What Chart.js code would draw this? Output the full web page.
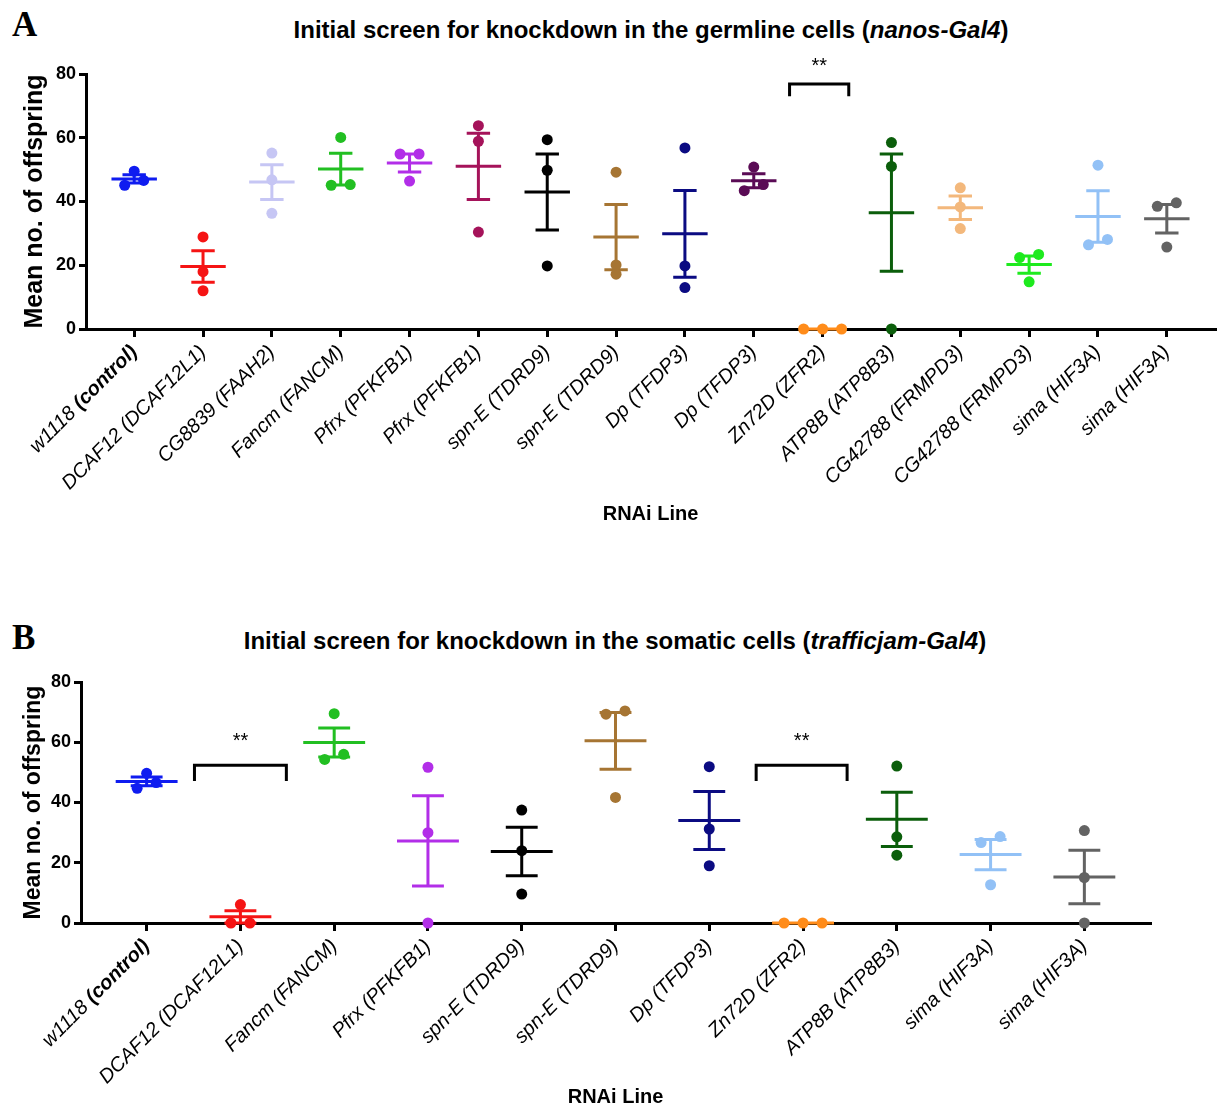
<!DOCTYPE html>
<html>
<head>
<meta charset="utf-8">
<script src="https://cdn.jsdelivr.net/npm/chart.js@4.4.1/dist/chart.umd.min.js"></script>
<style>
  body { margin: 0; background: #fff; width: 1224px; height: 1109px; position: relative; overflow: hidden;
         font-family: "Liberation Sans", Arial, sans-serif; color: #000; }
  canvas { position: absolute; left: 0; }
  .letter { position: absolute; left: 12px; font-family: "Liberation Serif", "Times New Roman", serif;
            font-weight: bold; font-size: 35px; line-height: 35px; }
  .title { position: absolute; font-weight: bold; font-size: 24px; white-space: nowrap; transform: translateX(-50%); }
</style>
</head>
<body>
<div class="letter" style="top:7px">A</div>
<div class="title" style="left:651px;top:16px">Initial screen for knockdown in the germline cells (<i>nanos-Gal4</i>)</div>
<canvas id="panelA" width="1224" height="545" style="top:0"></canvas>

<div class="letter" style="top:620px">B</div>
<div class="title" style="left:615px;top:627px">Initial screen for knockdown in the somatic cells (<i>trafficjam-Gal4</i>)</div>
<canvas id="panelB" width="1224" height="509" style="top:600px"></canvas>

<script>
// ---- data: offspring counts per RNAi line (3 replicates each) ----
const linesA = ['w1118 (control)', 'DCAF12 (DCAF12L1)', 'CG8839 (FAAH2)', 'Fancm (FANCM)',
  'Pfrx (PFKFB1)', 'Pfrx (PFKFB1)', 'spn-E (TDRD9)', 'spn-E (TDRD9)', 'Dp (TFDP3)', 'Dp (TFDP3)',
  'Zn72D (ZFR2)', 'ATP8B (ATP8B3)', 'CG42788 (FRMPD3)', 'CG42788 (FRMPD3)', 'sima (HIF3A)', 'sima (HIF3A)'];
const offspringA = [
  [49.5, 45.1, 46.6],
  [28.9, 18.0, 12.0],
  [55.2, 46.8, 36.3],
  [60.1, 45.1, 45.3],
  [54.9, 54.9, 46.4],
  [63.8, 58.9, 30.4],
  [59.4, 49.8, 19.8],
  [49.2, 20.1, 17.2],
  [56.8, 19.8, 13.0],
  [50.8, 43.4, 45.3],
  [0, 0, 0],
  [58.5, 51.0, 0],
  [44.3, 38.3, 31.5],
  [23.4, 22.4, 14.8],
  [51.4, 28.1, 26.4],
  [39.6, 38.5, 25.7]
];
// significance brackets: [from, to, top, leg end, label y]
const bracketsA = [[9.52, 10.38, 76.9, 73.0, 82.3]];

const linesB = ['w1118 (control)', 'DCAF12 (DCAF12L1)', 'Fancm (FANCM)', 'Pfrx (PFKFB1)',
  'spn-E (TDRD9)', 'spn-E (TDRD9)', 'Dp (TFDP3)', 'Zn72D (ZFR2)', 'ATP8B (ATP8B3)',
  'sima (HIF3A)', 'sima (HIF3A)'];
const offspringB = [
  [49.7, 44.7, 46.6],
  [6.1, 0, 0],
  [69.5, 54.3, 56.0],
  [51.7, 30.0, 0],
  [37.5, 24.0, 9.6],
  [70.4, 69.3, 41.7],
  [51.9, 31.2, 19.0],
  [0, 0, 0],
  [52.1, 28.6, 22.5],
  [28.7, 26.7, 12.7],
  [30.7, 15.1, 0]
];
const bracketsB = [[0.51, 1.49, 52.4, 47.1, 60.1], [6.5, 7.47, 52.4, 47.1, 60.1]];

const yTicks = [0, 20, 40, 60, 80];

// ---- colours ----
const BLUE = '#0f1cf0', RED = '#f51414', LAVENDER = '#c6c6f4', GREEN = '#22bf22', VIOLET = '#b22ee8',
  CRIMSON = '#a5135a', BLACK = '#000000', BROWN = '#a67533', NAVY = '#0b0b82', PLUM = '#5a0b55',
  ORANGE = '#ff8c1a', DKGREEN = '#0b5e0b', PEACH = '#f3b87c', LIME = '#1eea1e', SKY = '#92c1f6', GREY = '#636363';
const coloursA = [BLUE, RED, LAVENDER, GREEN, VIOLET, CRIMSON, BLACK, BROWN, NAVY, PLUM, ORANGE, DKGREEN, PEACH, LIME, SKY, GREY];
const coloursB = [BLUE, RED, GREEN, VIOLET, BLACK, BROWN, NAVY, ORANGE, DKGREEN, SKY, GREY];

Chart.defaults.font.family = '"Liberation Sans", Arial, sans-serif';
Chart.defaults.color = '#000';

const EDGE = 0.7;        // empty space at each end of the x axis, in categories
const MEAN_HALF = 0.33;
const CAP_HALF = 0.17;
const LABEL_FONT = '"Liberation Sans", Arial, sans-serif';

function mean(a) { return a.reduce((s, v) => s + v, 0) / a.length; }
function sem(a) {
  const m = mean(a);
  const v = a.reduce((s, x) => s + (x - m) * (x - m), 0) / (a.length - 1);
  return Math.sqrt(v / a.length);
}

// put dots that would overlap side by side (like a scatter dot plot)
function spread(vals, pxPerUnit, pxPerCat) {
  const order = vals.map((v, i) => i).sort((a, b) => vals[a] - vals[b]);
  const out = vals.map(() => 0);
  let run = [order[0]];
  const close = () => run.forEach((k, j) => { out[k] = (j - (run.length - 1) / 2) * 19 / pxPerCat; });
  for (let n = 1; n < order.length; n++) {
    if ((vals[order[n]] - vals[order[n - 1]]) * pxPerUnit < 9) run.push(order[n]);
    else { close(); run = [order[n]]; }
  }
  close();
  return out;
}

function makePanel(id, names, values, colours, brackets, box) {
  const plotW = box.width - box.pad.left - box.yWidth - box.pad.right;
  const plotH = box.height - box.pad.top - box.pad.bottom - box.xHeight;
  const pxPerCat = plotW / (names.length - 1 + 2 * EDGE);
  const pxPerUnit = plotH / yTicks[yTicks.length - 1];

  const datasets = [];
  values.forEach((vals, i) => {
    const m = mean(vals), s = sem(vals);
    const offs = spread(vals, pxPerUnit, pxPerCat);
    datasets.push({
      type: 'scatter',
      data: vals.map((v, k) => ({ x: i + offs[k], y: v })),
      pointRadius: 5.5, pointBackgroundColor: colours[i], pointBorderWidth: 0,
      order: 0, clip: false
    });
    datasets.push({
      type: 'line', showLine: true, spanGaps: false,
      data: [
        { x: i - MEAN_HALF, y: m }, { x: i + MEAN_HALF, y: m }, { x: i, y: null },
        { x: i, y: m - s }, { x: i, y: m + s }, { x: i, y: null },
        { x: i - CAP_HALF, y: m + s }, { x: i + CAP_HALF, y: m + s }, { x: i, y: null },
        { x: i - CAP_HALF, y: m - s }, { x: i + CAP_HALF, y: m - s }
      ],
      borderColor: colours[i], borderWidth: 3, pointRadius: 0, order: 1, clip: false
    });
  });
  brackets.forEach(b => {
    datasets.push({
      type: 'line', showLine: true,
      data: [{ x: b[0], y: b[3] }, { x: b[0], y: b[2] }, { x: b[1], y: b[2] }, { x: b[1], y: b[3] }],
      borderColor: '#000', borderWidth: 3, pointRadius: 0, order: 2, clip: false
    });
  });

  const textPlugin = {
    id: 'tickText',
    afterDraw(chart) {
      const { ctx } = chart;
      const xs = chart.scales.x, ys = chart.scales.y;
      const base = ys.getPixelForValue(0);
      ctx.save();
      ctx.fillStyle = '#000';
      ctx.textBaseline = 'middle';
      names.forEach((name, i) => {
        const parts = name.split(/(\(control\))/).filter(p => p);
        const fonts = parts.map(p => (p === '(control)' ? 'italic bold ' : 'italic ') + '20px ' + LABEL_FONT);
        let total = 0;
        const widths = parts.map((p, k) => { ctx.font = fonts[k]; const w = ctx.measureText(p).width; total += w; return w; });
        ctx.save();
        ctx.translate(xs.getPixelForValue(i), base + 20);
        ctx.rotate(-Math.PI / 4);
        ctx.textAlign = 'left';
        let x = -total;
        parts.forEach((p, k) => { ctx.font = fonts[k]; ctx.fillText(p, x, 0); x += widths[k]; });
        ctx.restore();
      });
      ctx.font = '20px ' + LABEL_FONT;
      ctx.textAlign = 'center';
      brackets.forEach(b => {
        ctx.fillText('**', xs.getPixelForValue((b[0] + b[1]) / 2), ys.getPixelForValue(b[4]));
      });
      ctx.restore();
    }
  };

  return new Chart(document.getElementById(id), {
    type: 'scatter',
    data: { datasets },
    options: {
      responsive: false,
      animation: false,
      devicePixelRatio: 1,
      events: [],
      layout: { padding: box.pad },
      plugins: { legend: { display: false }, tooltip: { enabled: false } },
      scales: {
        x: {
          type: 'linear',
          min: -EDGE, max: names.length - 1 + EDGE,
          afterBuildTicks: s => { s.ticks = names.map((n, i) => ({ value: i })); },
          afterFit: s => { s.height = box.xHeight; },
          ticks: { display: false },
          grid: { drawOnChartArea: false, drawTicks: true, tickLength: 8, lineWidth: 3, color: '#000' },
          border: { display: true, width: 3, color: '#000' },
          title: { display: true, text: 'RNAi Line', font: { size: 20, weight: 'bold' }, color: '#000',
                   padding: { top: 0, bottom: box.xTitlePad } }
        },
        y: {
          min: 0, max: yTicks[yTicks.length - 1],
          afterBuildTicks: s => { s.ticks = yTicks.map(v => ({ value: v })); },
          afterFit: s => { s.width = box.yWidth; },
          ticks: { font: { size: 18, weight: 'bold' }, color: '#000', padding: 3 },
          grid: { drawOnChartArea: false, drawTicks: true, tickLength: 7, lineWidth: 3, color: '#000' },
          border: { display: true, width: 3, color: '#000' },
          title: { display: true, text: 'Mean no. of offspring', font: { size: box.yTitleSize, weight: 'bold' },
                   color: '#000', padding: 0 }
        }
      }
    },
    plugins: [textPlugin]
  });
}

makePanel('panelA', linesA, offspringA, coloursA, bracketsA, {
  width: 1224, height: 545, pad: { top: 74, left: 20, right: 9, bottom: 10 },
  yWidth: 66, xHeight: 206, xTitlePad: 9, yTitleSize: 25
});
makePanel('panelB', linesB, offspringB, coloursB, bracketsB, {
  width: 1224, height: 509, pad: { top: 82, left: 20, right: 74, bottom: 0 },
  yWidth: 61, xHeight: 186, xTitlePad: 0, yTitleSize: 23
});
</script>
</body>
</html>
